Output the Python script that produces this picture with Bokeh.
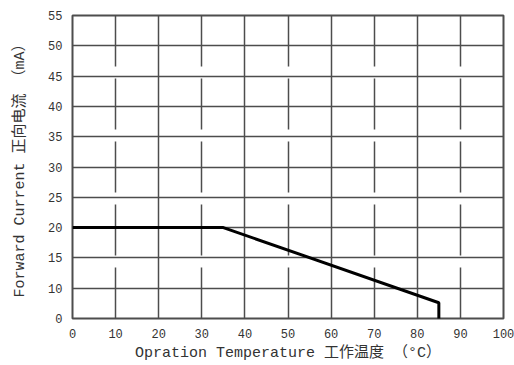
from bokeh.plotting import figure
from bokeh.models import Range1d, FixedTicker, Grid
from bokeh.embed import file_html
from bokeh.resources import INLINE

# Data
temperature = [0, 35, 85, 85]          # °C
forward_current = [20, 20, 7.6, 0]     # mA

x_ticks = [0, 10, 20, 30, 40, 50, 60, 70, 80, 90, 100]
y_ticks = [5, 10, 15, 20, 25, 30, 35, 40, 45, 50, 55]
y_tick_labels = {5: "0"}  # the reference labels its bottom line "0"
solid_vgrid = [20, 40, 60, 80]
dashed_vgrid = [10, 30, 50, 70, 90]

LATIN = "'Liberation Mono', 'Noto Sans CJK SC'"
GRID = "#4d4d4d"

p = figure(width=514, height=365, output_backend="svg", toolbar_location=None,
           x_range=Range1d(0, 100), y_range=Range1d(5, 55),
           min_border_left=72, min_border_right=11, min_border_top=15, min_border_bottom=47)
p.background_fill_color = "white"
p.border_fill_color = "white"
p.outline_line_color = GRID
p.outline_line_width = 2

# axes
p.xaxis.ticker = FixedTicker(ticks=x_ticks)
p.yaxis.ticker = FixedTicker(ticks=y_ticks)
p.yaxis.major_label_overrides = y_tick_labels
for ax in (p.xaxis[0], p.yaxis[0]):
    ax.axis_line_color = None
    ax.major_tick_line_color = None
    ax.major_tick_out = 0
    ax.major_tick_in = 0
    ax.minor_tick_line_color = None
    ax.minor_tick_out = 0
    ax.major_label_text_font = LATIN
    ax.major_label_text_font_size = "12px"
    ax.major_label_text_color = "#333333"
    ax.axis_label_text_font = LATIN
    ax.axis_label_text_font_size = "15px"
    ax.axis_label_text_font_style = "normal"
    ax.axis_label_text_color = "#333333"
p.xaxis.axis_label = "Opration Temperature 工作温度 （°C）"
p.yaxis.axis_label = "Forward Current 正向电流 （mA）"
p.xaxis.major_label_standoff = 10
p.yaxis.major_label_standoff = 10
p.xaxis.axis_label_standoff = 4
p.yaxis.axis_label_standoff = 16

# grids
p.ygrid.grid_line_color = GRID
p.ygrid.grid_line_width = 1.5
p.xgrid.ticker = FixedTicker(ticks=solid_vgrid)
p.xgrid.grid_line_color = GRID
p.xgrid.grid_line_width = 1.5
g2 = Grid(dimension=0, ticker=FixedTicker(ticks=dashed_vgrid),
          grid_line_color=GRID, grid_line_width=1.5, grid_line_dash="51 12")
p.add_layout(g2)

p.line(temperature, forward_current, line_color="black", line_width=3)

open("out.html", "w").write(file_html(p, INLINE))
